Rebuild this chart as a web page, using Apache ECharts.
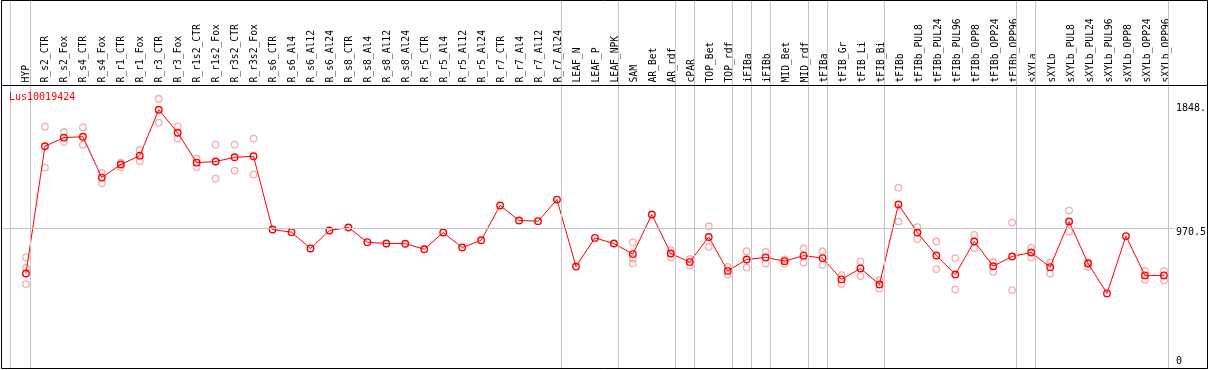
<!DOCTYPE html>
<html>
<head>
<meta charset="utf-8">
<script src="https://cdn.jsdelivr.net/npm/echarts@6/dist/echarts.min.js"></script>
<style>
html,body{margin:0;padding:0;background:#fff;}
#chart{width:1209px;height:370px;}
</style>
</head>
<body>
<div id="chart"></div>
<script>
const categories = ["HYP","R_s2_CTR","R_s2_Fox","R_s4_CTR","R_s4_Fox","R_r1_CTR","R_r1_Fox","R_r3_CTR","R_r3_Fox","R_r1s2_CTR","R_r1s2_Fox","R_r3s2_CTR","R_r3s2_Fox","R_s6_CTR","R_s6_Al4","R_s6_Al12","R_s6_Al24","R_s8_CTR","R_s8_Al4","R_s8_Al12","R_s8_Al24","R_r5_CTR","R_r5_Al4","R_r5_Al12","R_r5_Al24","R_r7_CTR","R_r7_Al4","R_r7_Al12","R_r7_Al24","LEAF_N","LEAF_P","LEAF_NPK","SAM","AR_Bet","AR_rdf","cPAR","TOP_Bet","TOP_rdf","iFIBa","iFIBb","MID_Bet","MID_rdf","tFIBa","tFIB_Gr","tFIB_Li","tFIB_Bi","tFIBb","tFIBb_PUL8","tFIBb_PUL24","tFIBb_PUL96","tFIBb_OPP8","tFIBb_OPP24","tFIBb_OPP96","sXYLa","sXYLb","sXYLb_PUL8","sXYLb_PUL24","sXYLb_PUL96","sXYLb_OPP8","sXYLb_OPP24","sXYLb_OPP96"];

const meanValues = [643,1569,1632,1639,1341,1436,1501,1835,1668,1450,1458,1489,1496,963,944,825,956,978,871,861,860,820,941,832,885,1138,1029,1024,1181,694,902,861,784,1072,789,726,909,662,745,760,733,773,755,600,680,563,1145,941,774,636,876,696,767,796,689,1021,716,498,915,629,629];

const rep1 = [760,1712,1673,1707,1375,1450,1542,1915,1714,1479,1581,1581,1625,null,null,null,null,null,null,null,null,null,null,null,null,null,null,null,null,null,null,null,869,null,813,747,987,691,805,800,745,825,805,631,731,595,1268,980,876,755,924,725,1014,832,723,1101,725,null,null,662,662];

const rep2 = [566,1414,1600,1581,1300,1416,1462,1741,1625,1416,1334,1392,1363,null,null,null,null,null,null,null,null,null,null,null,null,null,null,null,null,null,null,null,716,null,760,699,837,636,687,716,716,723,706,566,624,534,1021,895,675,527,827,655,522,760,643,949,691,null,null,597,593];

const rep3 = [684,null,null,null,null,null,null,null,null,null,null,null,null,null,null,null,null,null,null,null,null,null,null,null,null,null,null,null,null,null,null,null,752,null,null,null,null,null,null,null,null,null,null,null,null,null,null,null,null,null,null,null,null,null,null,null,null,null,null,null,null];

// positions (in category index units) of the vertical group separators
const groupLines = [-0.816,0.237,28.237,31.237,34.237,35.237,37.237,38.237,39.237,41.237,42.237,45.237,52.237,53.237,60.237];

const yTickValues = [0, 970.5, 1848];
const yTickLabels = ["0", "970.5", "1848."];
const refLine = 970.5;
const geneName = "Lus10019424";

const MONO = "DejaVu Sans Mono";
const chart = echarts.init(document.getElementById('chart'), null, {renderer:'canvas'});

function pairs(arr){
  const out = [];
  arr.forEach((v,i)=>{ if(v!=null) out.push([i,v]); });
  return out;
}
const repData = pairs(rep1).concat(pairs(rep2), pairs(rep3));

const option = {
  animation: false,
  backgroundColor: '#fff',
  title: {
    text: geneName, left: 9, top: 91, padding: 0,
    textStyle: {color:'#ff0000', fontSize:10, fontFamily:MONO, fontWeight:'normal', lineHeight:12}
  },
  grid: [
    {left:2, right:33, top:0, bottom:2, containLabel:false},
    {left:16.5, right:33.5, top:0, height:85.5, containLabel:false}
  ],
  xAxis: [
    {type:'value', gridIndex:0, min:-24/19, max:-24/19 + 1174/19, show:false},
    {type:'category', gridIndex:1, data:categories, position:'bottom', boundaryGap:true,
     axisLine:{show:false}, axisTick:{show:false}, splitLine:{show:false},
     axisLabel:{inside:true, rotate:90, interval:0, margin:3, fontSize:9.7, fontFamily:MONO, color:'#000'}}
  ],
  yAxis: [
    {type:'value', gridIndex:0, position:'right', min:-45, max:2634,
     axisLine:{show:false}, axisTick:{show:false}, splitLine:{show:false},
     axisLabel:{
       customValues: yTickValues, margin:2, fontSize:10, fontFamily:MONO, color:'#000',
       formatter: function(v){
         const idx = yTickValues.indexOf(v);
         const t = idx >= 0 ? yTickLabels[idx] : '';
         return v === refLine ? '{d|' + t + '}' : t;
       },
       rich: {d: {fontSize:10, fontFamily:MONO, color:'#000', padding:[7,0,0,0]}}
     }},
    {type:'value', gridIndex:1, show:false}
  ],
  series: [
    {
      type:'scatter', xAxisIndex:0, yAxisIndex:0, z:2,
      data: repData,
      symbol:'circle', symbolSize:6.5,
      itemStyle:{color:'rgba(0,0,0,0)', borderColor:'#ef9a9a', borderWidth:1.3},
      silent:true,
      markLine: {
        silent:true, symbol:'none', label:{show:false},
        lineStyle:{color:'#c4c4c4', width:1, type:'solid'},
        data: groupLines.map(v=>({xAxis:v})).concat([{yAxis:refLine}])
      }
    },
    {
      type:'line', xAxisIndex:0, yAxisIndex:0, z:3,
      data: meanValues.map((v,i)=>[i,v]),
      symbol:'circle', symbolSize:6.5, showAllSymbol:true,
      lineStyle:{color:'#ff0000', width:1},
      itemStyle:{color:'rgba(0,0,0,0)', borderColor:'#ff0000', borderWidth:1.4},
      silent:true
    }
  ],
  graphic: [
    {type:'rect', silent:true, z:100, shape:{x:1.5, y:0.5, width:1206, height:368},
     style:{fill:null, stroke:'#000', lineWidth:1}},
    {type:'line', silent:true, z:100, shape:{x1:1.5, y1:85.5, x2:1207.5, y2:85.5},
     style:{stroke:'#000', lineWidth:1}}
  ]
};
chart.setOption(option);
</script>
</body>
</html>
